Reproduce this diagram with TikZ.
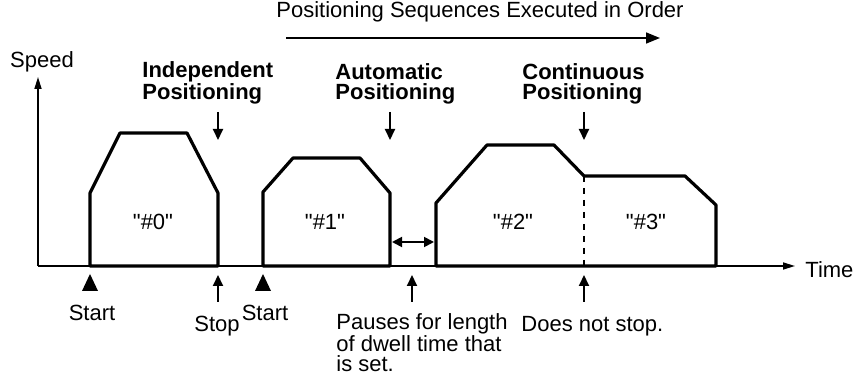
\documentclass[tikz,border=0pt]{standalone}
\usepackage{fontspec}
\setmainfont{Liberation Sans}
\usetikzlibrary{arrows.meta}

\begin{document}
\begin{tikzpicture}[x=0.5pt,y=-0.5pt,
        font=\fontsize{11}{10}\selectfont,inner sep=0pt,
        head/.style={align=left,anchor=base west,font=\fontsize{11}{10}\selectfont\bfseries},
        prof/.style={line width=1.6pt,line join=round},
        axis/.style={line width=0.8pt,-{Triangle[length=6pt,width=3.5pt]}},
        ptr/.style={line width=1pt,-{Triangle[length=5.5pt,width=5pt]}}]

    \useasboundingbox (0,0) rectangle (863,379);

    % axes
    \coordinate (O) at (38,266);
    \coordinate (vtop) at (38,77);
    \coordinate (hend) at (795,266);
    \node (speed) at (42,62) {Speed};
    \node[anchor=west] (time) at (805,270) {Time};
    \draw[axis] (O) -- (vtop);
    \draw[axis] (O) -- (hend);

    % order arrow
    \node (seq) at (480,12) {Positioning Sequences Executed in Order};
    \coordinate (seqa) at (286,38);
    \coordinate (seqb) at (660,38);
    \draw[line width=0.8pt,-{Triangle[length=7pt,width=5.5pt]}] (seqa) -- (seqb);

    % speed profiles
    \draw[prof] (90,266) -- (90,193) -- (120,133) -- (187,133) -- (218,193) -- (218,266) -- cycle;
    \draw[prof] (263,266) -- (263,192) -- (293,158) -- (360,158) -- (390,193) -- (390,266) -- cycle;
    \draw[prof] (436,266) -- (436,203) -- (487,145) -- (554,145) -- (584,176)
        -- (685,176) -- (716,205) -- (716,266) -- cycle;
    \draw[dashed,line width=0.8pt] (584,176) -- (584,266);

    \node (p0) at (153,222) {\textquotedbl\#0\textquotedbl};
    \node (p1) at (325,222) {\textquotedbl\#1\textquotedbl};
    \node (p2) at (513,222) {\textquotedbl\#2\textquotedbl};
    \node (p3) at (646,222) {\textquotedbl\#3\textquotedbl};

    % dwell time
    \coordinate (dwa) at (392,242);
    \coordinate (dwb) at (434,242);
    \draw[line width=0.9pt,{Triangle[length=5pt,width=5pt]}-{Triangle[length=5pt,width=5pt]}] (dwa) -- (dwb);

    % modes
    \node[head] (indep) at (142,100) {Independent\\Positioning};
    \node[head] (auto) at (335,100) {Automatic\\Positioning};
    \node[head] (cont) at (522,100) {Continuous\\Positioning};
    \foreach \x/\n in {218/indep,390/auto,584/cont}{
        \coordinate (\n top) at (\x,112);
        \coordinate (\n bot) at (\x,140);
        \draw[ptr] (\n top) -- (\n bot);
    }

    % start markers
    \foreach \x/\n in {90/s0,263/s1}{
        \coordinate (\n) at (\x,274);
        \fill (\n) -- ++(-8,17) -- ++(16,0) -- cycle;
    }
    \node (start0) at (92,313) {Start};
    \node (start1) at (265,313) {Start};

    % stops and notes
    \node[anchor=base] (stop) at (217,332) {Stop};
    \node[align=left,anchor=base west] (dwell) at (336,372) {Pauses for length\\of dwell time that\\is set.};
    \node[anchor=base west] (nostop) at (521,332) {Does not stop.};
    \foreach \x/\n in {218/stop,412/dwell,584/nostop}{
        \coordinate (\n a) at (\x,302);
        \coordinate (\n b) at (\x,275);
        \draw[ptr] (\n a) -- (\n b);
    }
\end{tikzpicture}
\end{document}
